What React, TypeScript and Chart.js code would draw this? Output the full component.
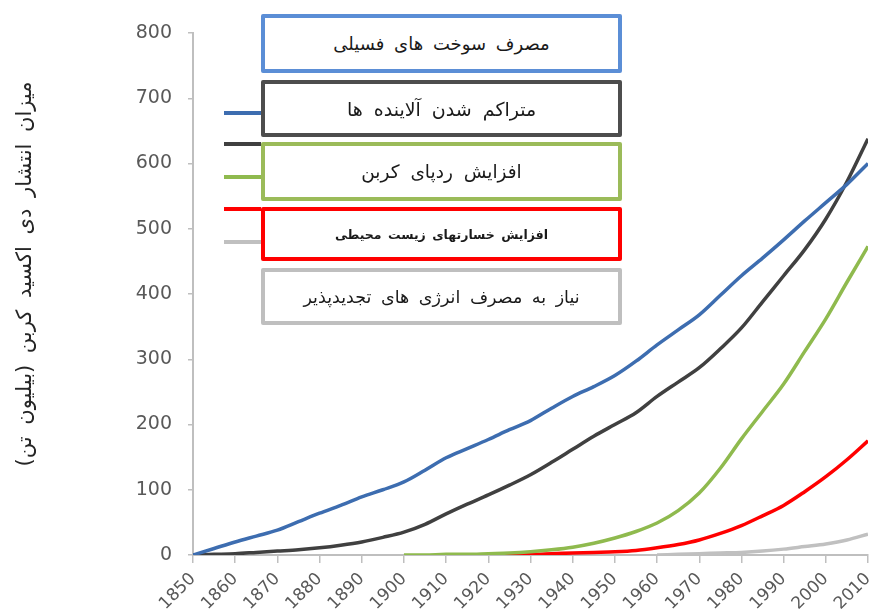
import React, { useEffect, useRef } from "react";
import { Chart, registerables } from "chart.js";
Chart.register(...registerables);

// ---------- data ----------
const years = [
  1850, 1855, 1860, 1865, 1870, 1875, 1880, 1885, 1890, 1895, 1900, 1905, 1910, 1915, 1920, 1925, 1930,
  1935, 1940, 1945, 1950, 1955, 1960, 1965, 1970, 1975, 1980, 1985, 1990, 1995, 2000, 2005, 2010,
];
const fossilFuel = [
  0, 10, 20, 29, 38, 51, 64, 76, 89, 100, 112, 130, 149, 163, 177, 192, 206, 225, 243, 258, 275, 297, 322,
  345, 368, 398, 428, 455, 483, 512, 540, 568, 600,
];
const pollutants = [
  0, 1, 2, 4, 6, 8, 11, 15, 20, 27, 35, 47, 63, 78, 92, 107, 123, 142, 162, 182, 200, 218, 243, 265, 287,
  316, 348, 388, 428, 468, 515, 572, 638,
];
const carbonFootprint = [
  null, null, null, null, null, null, null, null, null, null,
  0, 0, 1, 1, 2, 3, 5, 8, 12, 18, 26, 36, 49, 68, 95, 133, 178, 220, 262, 312, 362, 418, 473,
];
const envDamage = [
  null, null, null, null, null, null, null, null, null, null, null, null, null, null,
  0, 1, 1, 2, 3, 4, 5, 7, 11, 16, 23, 33, 45, 60, 76, 97, 120, 146, 175,
];
const renewables = [
  null, null, null, null, null, null, null, null, null, null, null, null, null, null, null, null, null,
  null, null, null, null, null,
  0, 1, 2, 3, 4, 6, 9, 13, 17, 23, 32,
];
const xTicks = [1850, 1860, 1870, 1880, 1890, 1900, 1910, 1920, 1930, 1940, 1950, 1960, 1970, 1980, 1990, 2000, 2010];
const yTicks = [0, 100, 200, 300, 400, 500, 600, 700, 800];

const seriesNames = [
  "مصرف سوخت های فسیلی",
  "متراکم شدن آلاینده ها",
  "افزایش ردپای کربن",
  "افزایش خسارتهای زیست محیطی",
  "نیاز به مصرف انرژی های تجدیدپذیر",
];
const yTitle = "میزان انتشار دی اکسید کربن (بیلیون تن)";

const lineColors = ["#3d6db0", "#404040", "#8fba4e", "#ff0000", "#c0c0c0"];
const boxColors = ["#5b8ed6", "#4d4d4d", "#9bbb59", "#ff0000", "#bfbfbf"];
const seriesValues = [fossilFuel, pollutants, carbonFootprint, envDamage, renewables];

// layout of the annotation boxes (px)
const boxes = [
  { top: 14, height: 59, size: 18, bold: false, ws: 4 },
  { top: 80, height: 57, size: 19, bold: false, ws: 5 },
  { top: 142, height: 59, size: 18.5, bold: false, ws: 5 },
  { top: 207, height: 54, size: 12.5, bold: true, ws: 2 },
  { top: 268, height: 57, size: 17.5, bold: false, ws: 4 },
];
const markerY = [113, 144, 177, 209, 242];

export default function App() {
  const canvasRef = useRef<HTMLCanvasElement | null>(null);

  useEffect(() => {
    const canvas = canvasRef.current;
    if (!canvas) return;
    const chart = new Chart(canvas, {
      type: "line",
      data: {
        datasets: seriesValues.map((vals, i) => ({
          label: seriesNames[i],
          data: years.map((x, j) => ({ x, y: vals[j] as any })),
          borderColor: lineColors[i],
          backgroundColor: lineColors[i],
          borderWidth: 3.5,
          pointRadius: 0,
          cubicInterpolationMode: "monotone" as const,
          spanGaps: false,
        })),
      },
      options: {
        responsive: false,
        animation: false,
        devicePixelRatio: 1,
        layout: { padding: { left: 0, right: 6, top: 33, bottom: 0 } },
        plugins: { legend: { display: false }, tooltip: { enabled: false }, title: { display: false } },
        scales: {
          x: {
            type: "linear",
            min: 1850,
            max: 2010,
            afterBuildTicks: (scale: any) => {
              scale.ticks = xTicks.map((v) => ({ value: v }));
            },
            afterFit: (scale: any) => {
              scale.height = 54;
              scale.paddingLeft = 0;
              scale.paddingRight = 0;
            },
            ticks: {
              autoSkip: false,
              minRotation: 45,
              maxRotation: 45,
              color: "#595959",
              font: { family: "DejaVu Sans", size: 17 },
              padding: 6,
              callback: (v: any) => String(v),
            },
            grid: { drawOnChartArea: false, drawTicks: true, tickLength: 8, color: "#bfbfbf", lineWidth: 1.5 },
            border: { display: true, color: "#bfbfbf", width: 2 },
          },
          y: {
            type: "linear",
            min: 0,
            max: 800,
            afterBuildTicks: (scale: any) => {
              scale.ticks = yTicks.map((v) => ({ value: v }));
            },
            afterFit: (scale: any) => {
              scale.width = 193;
              scale.paddingTop = 0;
              scale.paddingBottom = 0;
            },
            ticks: {
              color: "#595959",
              font: { family: "DejaVu Sans", size: 19 },
              padding: 16,
              callback: (v: any) => String(v),
            },
            grid: { drawOnChartArea: false, drawTicks: true, tickLength: 5, color: "#bfbfbf", lineWidth: 1.5 },
            border: { display: true, color: "#bfbfbf", width: 2 },
          },
        },
      },
    });
    return () => chart.destroy();
  }, []);

  return (
    <div style={{ position: "absolute", left: 0, top: 0, width: 874, height: 609, overflow: "hidden", background: "#fff" }}>
      <canvas ref={canvasRef} width={874} height={609} style={{ width: 874, height: 609, display: "block" }} />
      <div
        style={{
          position: "absolute",
          left: 24 - 240,
          top: 274 - 15,
          width: 480,
          height: 30,
          lineHeight: "30px",
          transform: "rotate(-90deg)",
          textAlign: "center",
          direction: "rtl",
          whiteSpace: "nowrap",
          fontFamily: "DejaVu Sans",
          fontSize: 21,
          wordSpacing: 5,
          color: "#262626",
        }}
      >
        {yTitle}
      </div>
      {markerY.map((y, i) => (
        <div
          key={"m" + i}
          style={{ position: "absolute", left: 224, top: y - 2, width: 37, height: 4, background: lineColors[i] }}
        />
      ))}
      {boxes.map((b, i) => (
        <div
          key={"b" + i}
          style={{
            position: "absolute",
            left: 261,
            top: b.top,
            width: 361,
            height: b.height,
            boxSizing: "border-box",
            border: `4px solid ${boxColors[i]}`,
            borderRadius: 2,
            background: "#fff",
            display: "flex",
            alignItems: "center",
            justifyContent: "center",
            direction: "rtl",
            fontFamily: "DejaVu Sans",
            fontSize: b.size,
            fontWeight: b.bold ? "bold" : "normal",
            wordSpacing: b.ws,
            color: "#1a1a1a",
            whiteSpace: "nowrap",
          }}
        >
          {seriesNames[i]}
        </div>
      ))}
    </div>
  );
}
